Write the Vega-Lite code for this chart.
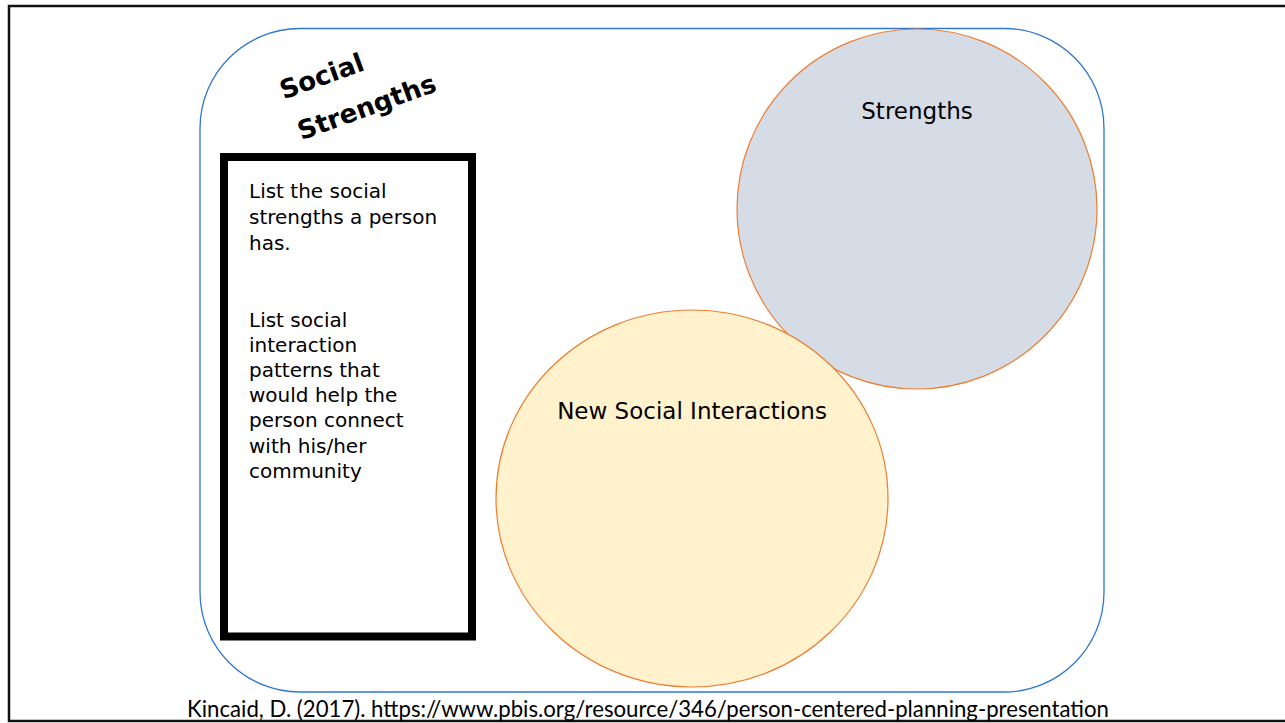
{
  "$schema": "https://vega.github.io/schema/vega-lite/v6.json",
  "width": 1285,
  "height": 723,
  "autosize": {"type": "fit", "contains": "padding"},
  "padding": 0,
  "background": "white",
  "config": {"view": {"stroke": null}},
  "encoding": {
    "x": {"field": "x", "type": "quantitative", "scale": {"domain": [0, 1285], "nice": false, "zero": false}, "axis": null},
    "y": {"field": "y", "type": "quantitative", "scale": {"domain": [0, 723], "nice": false, "zero": false, "reverse": true}, "axis": null}
  },
  "layer": [
    {
      "data": {"values": [{"part": "slide frame", "x": 9, "x2": 1310, "y": 6, "y2": 721}]},
      "mark": {"type": "rect", "fill": null, "stroke": "#111111", "strokeWidth": 2.5, "clip": true},
      "encoding": {"x2": {"field": "x2"}, "y2": {"field": "y2"}}
    },
    {
      "data": {"values": [{"part": "outer rounded panel", "x": 200, "x2": 1104, "y": 28.5, "y2": 692}]},
      "mark": {"type": "rect", "fill": null, "stroke": "#2F78CF", "strokeWidth": 1.3, "cornerRadius": 100},
      "encoding": {"x2": {"field": "x2"}, "y2": {"field": "y2"}}
    },
    {
      "data": {"values": [{"part": "instruction box", "x": 224, "x2": 472, "y": 157, "y2": 636.5}]},
      "mark": {"type": "rect", "fill": "white", "stroke": "black", "strokeWidth": 8},
      "encoding": {"x2": {"field": "x2"}, "y2": {"field": "y2"}}
    },
    {
      "data": {"values": [{"circle": "Strengths", "x": 917, "y": 209}]},
      "mark": {"type": "point", "shape": "circle", "filled": true, "fill": "#D6DCE5", "stroke": "#ED7D31", "strokeWidth": 1.2, "opacity": 1, "size": 129600}
    },
    {
      "data": {"values": [{"circle": "New Social Interactions", "x": 692, "y": 498.5}]},
      "mark": {"type": "point", "shape": "M -1 0 A 1 0.9617 0 1 1 1 0 A 1 0.9617 0 1 1 -1 0 Z", "filled": true, "fill": "#FFF2CC", "stroke": "#ED7D31", "strokeWidth": 1.2, "opacity": 1, "size": 153664}
    },
    {
      "data": {"values": [{"label": "Social", "x": 322, "y": 77}, {"label": "Strengths", "x": 367, "y": 108}]},
      "mark": {"type": "text", "font": "DejaVu Sans", "fontWeight": "bold", "fontSize": 26, "angle": -20, "align": "center", "baseline": "middle", "color": "black"},
      "encoding": {"text": {"field": "label"}}
    },
    {
      "data": {"values": [{"label": "List the social\nstrengths a person\nhas.", "x": 249, "y": 198}]},
      "mark": {"type": "text", "font": "DejaVu Sans", "fontSize": 20, "lineBreak": "\n", "lineHeight": 26, "align": "left", "baseline": "alphabetic", "color": "black"},
      "encoding": {"text": {"field": "label"}}
    },
    {
      "data": {"values": [{"label": "List social\ninteraction\npatterns that\nwould help the\nperson connect\nwith his/her\ncommunity", "x": 249, "y": 327}]},
      "mark": {"type": "text", "font": "DejaVu Sans", "fontSize": 20, "lineBreak": "\n", "lineHeight": 25.1, "align": "left", "baseline": "alphabetic", "color": "black"},
      "encoding": {"text": {"field": "label"}}
    },
    {
      "data": {"values": [{"label": "Strengths", "x": 917, "y": 119}, {"label": "New Social Interactions", "x": 692, "y": 419}]},
      "mark": {"type": "text", "font": "DejaVu Sans", "fontSize": 23, "align": "center", "baseline": "alphabetic", "color": "black"},
      "encoding": {"text": {"field": "label"}}
    },
    {
      "data": {"values": [{"label": "Kincaid, D. (2017). https://www.pbis.org/resource/346/person-centered-planning-presentation", "x": 648, "y": 717}]},
      "mark": {"type": "text", "font": "Lato", "fontSize": 22.2, "align": "center", "baseline": "alphabetic", "color": "black"},
      "encoding": {"text": {"field": "label"}}
    }
  ]
}
